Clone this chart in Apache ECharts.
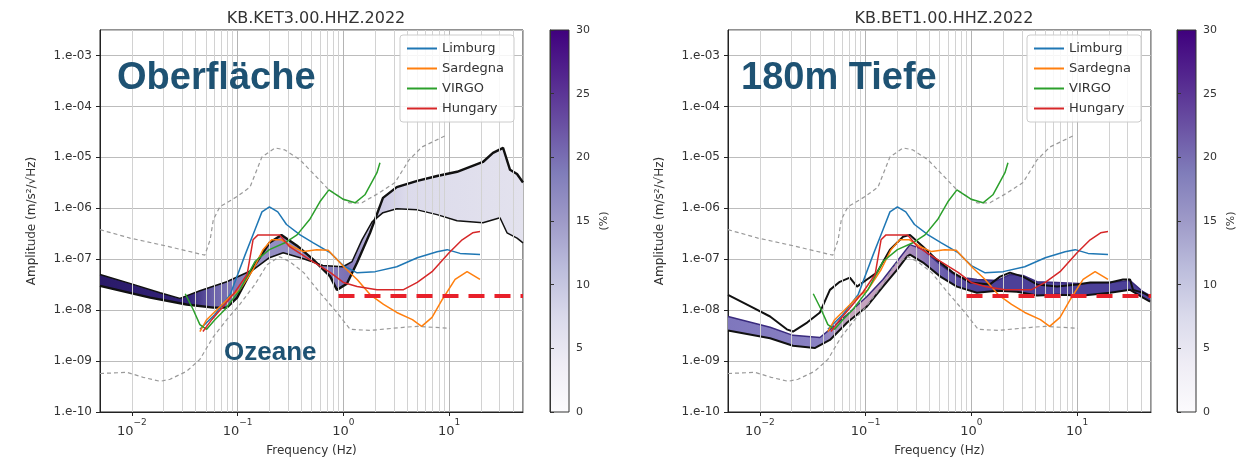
<!DOCTYPE html>
<html>
<head>
<meta charset="utf-8">
<script src="https://cdn.jsdelivr.net/npm/echarts@6/dist/echarts.min.js"></script>
<style>
  html, body { margin: 0; padding: 0; background: #fff; }
  #chart { width: 1240px; height: 458px; }
</style>
</head>
<body>
<div id="chart"></div>
<script>
// axis ticks
const xTickExp = [-2, -1, 0, 1];
const yTickLabels = { '-10': '1.e-10', '-9': '1.e-09', '-8': '1.e-08', '-7': '1.e-07', '-6': '1.e-06', '-5': '1.e-05', '-4': '1.e-04', '-3': '1.e-03' };
const cbarTicks = [0, 5, 10, 15, 20, 25, 30];

// reference curves, same in both panels  [freq Hz, amplitude]
const nhnm = [[0.005,3.8e-7],[0.0096,2.6e-7],[0.0215,1.8e-7],[0.049,1.2e-7],[0.055,2.4e-7],[0.059,6.0e-7],[0.068,1.07e-6],[0.099,1.7e-6],[0.131,2.6e-6],[0.17,1.02e-5],[0.226,1.53e-5],[0.28,1.4e-5],[0.39,8.9e-6],[0.51,5.0e-6],[0.73,2.3e-6],[1.13,1.28e-6],[1.5,1.28e-6],[2.18,2.0e-6],[3.08,3.2e-6],[4.18,8.9e-6],[5.55,1.6e-5],[9.56,2.75e-5]];
const nlnm = [[0.005,5.7e-10],[0.009,6.0e-10],[0.0128,4.8e-10],[0.0185,4.0e-10],[0.023,4.4e-10],[0.033,6.3e-10],[0.044,1.08e-9],[0.059,3.0e-9],[0.079,6.5e-9],[0.105,1.3e-8],[0.146,3.2e-8],[0.19,7.8e-8],[0.25,1.12e-7],[0.31,9.0e-8],[0.42,5.5e-8],[0.6,2.2e-8],[0.87,9.0e-9],[1.16,4.2e-9],[1.8,4.0e-9],[3.7,4.6e-9],[5.0,4.8e-9],[10.2,4.4e-9]];
const limburg = [[0.044,4.2e-9],[0.061,8.2e-9],[0.085,2.0e-8],[0.118,1.23e-7],[0.146,3.8e-7],[0.17,8.5e-7],[0.2,1.07e-6],[0.24,8.5e-7],[0.29,4.8e-7],[0.39,3.0e-7],[0.52,2.1e-7],[0.75,1.34e-7],[1.0,7.5e-8],[1.35,5.4e-8],[2.0,5.7e-8],[3.2,7.1e-8],[5.0,1.07e-7],[7.7,1.4e-7],[9.6,1.54e-7],[12.7,1.3e-7],[19.6,1.23e-7]];
const sardegna = [[0.044,3.8e-9],[0.051,6.5e-9],[0.064,1.03e-8],[0.085,1.85e-8],[0.105,2.5e-8],[0.14,6.2e-8],[0.174,1.54e-7],[0.21,2.4e-7],[0.26,2.4e-7],[0.33,1.76e-7],[0.42,1.41e-7],[0.56,1.54e-7],[0.72,1.5e-7],[1.03,6.8e-8],[1.35,4.0e-8],[1.8,2.0e-8],[2.4,1.3e-8],[3.2,9.0e-9],[4.5,6.5e-9],[5.5,4.8e-9],[6.9,7.2e-9],[8.6,1.6e-8],[11.4,4.0e-8],[14.8,5.7e-8],[19.6,4.0e-8]];
const virgo = [[0.032,2.1e-8],[0.038,1.03e-8],[0.044,5.2e-9],[0.051,4.2e-9],[0.061,6.5e-9],[0.076,1.03e-8],[0.105,2.5e-8],[0.146,9.0e-8],[0.2,1.54e-7],[0.28,2.1e-7],[0.365,3.0e-7],[0.48,6.0e-7],[0.6,1.34e-6],[0.73,2.3e-6],[1.0,1.5e-6],[1.29,1.28e-6],[1.6,1.84e-6],[2.08,5.0e-6],[2.22,7.8e-6]];
const hungary = [[0.047,3.8e-9],[0.057,6.5e-9],[0.073,1.18e-8],[0.095,2.3e-8],[0.123,5.0e-8],[0.14,2.4e-7],[0.156,3.0e-7],[0.25,3.0e-7],[0.31,1.76e-7],[0.48,9.8e-8],[0.75,5.5e-8],[1.0,3.5e-8],[1.35,2.9e-8],[2.08,2.5e-8],[3.67,2.5e-8],[5.0,3.5e-8],[6.9,5.7e-8],[10,1.34e-7],[13.3,2.4e-7],[16.7,3.3e-7],[19.6,3.5e-7]];
const requirement = [[0.9,1.9e-8],[50,1.9e-8]];

// left panel (surface) percentile curves
const surfLow = [[0.005,5.0e-8],[0.0103,3.2e-8],[0.0185,2.2e-8],[0.0285,1.7e-8],[0.044,2.4e-8],[0.079,3.6e-8],[0.14,6.2e-8],[0.2,1.07e-7],[0.27,1.34e-7],[0.42,1.02e-7],[0.64,7.5e-8],[0.99,7.1e-8],[1.21,9.0e-8],[1.5,2.4e-7],[1.87,5.4e-7],[2.37,8.2e-7],[3.2,9.8e-7],[5.0,9.3e-7],[7.7,7.5e-7],[11.9,5.7e-7],[20.9,5.2e-7],[30.3,6.5e-7],[35.3,3.3e-7],[43.9,2.6e-7],[50,2.1e-7]];
const surfHigh = [[0.005,3.0e-8],[0.0149,1.76e-8],[0.033,1.29e-8],[0.059,1.12e-8],[0.079,1.12e-8],[0.099,1.76e-8],[0.14,6.8e-8],[0.2,2.1e-7],[0.26,3.0e-7],[0.365,1.84e-7],[0.52,9.8e-8],[0.75,4.6e-8],[0.87,2.5e-8],[1.08,3.3e-8],[1.35,8.6e-8],[1.79,3.3e-7],[2.37,1.6e-6],[3.2,2.6e-6],[5.0,3.45e-6],[7.7,4.3e-6],[11.9,5.2e-6],[20.9,8.1e-6],[26,1.22e-5],[32.4,1.53e-5],[37.7,5.7e-6],[43.9,4.7e-6],[50,3.2e-6]];

// right panel (180 m) curves
const deepUpper = [[0.005,2.0e-8],[0.0086,1.12e-8],[0.0125,7.5e-9],[0.018,4.2e-9],[0.0206,3.8e-9],[0.028,5.7e-9],[0.037,9.0e-9],[0.046,2.5e-8],[0.057,3.6e-8],[0.071,4.35e-8],[0.083,2.9e-8],[0.103,4.0e-8],[0.128,5.45e-8],[0.17,1.54e-7],[0.226,2.76e-7],[0.263,3.0e-7],[0.35,1.76e-7],[0.47,9.8e-8],[0.67,5.45e-8],[0.97,3.5e-8],[1.5,3.2e-8],[1.87,4.55e-8],[2.32,5.45e-8],[3.08,4.55e-8],[4.18,3.2e-8],[6.46,2.9e-8],[10,3.2e-8],[13.3,3.5e-8],[20.5,3.5e-8],[27.2,4.0e-8],[31.7,4.0e-8],[33.8,2.5e-8],[42,2.2e-8],[49,1.85e-8]];
const deepTop = [[0.005,7.5e-9],[0.0125,4.6e-9],[0.0206,3.2e-9],[0.037,2.9e-9],[0.046,4.2e-9],[0.067,8.2e-9],[0.103,1.85e-8],[0.146,4.0e-8],[0.198,9.0e-8],[0.263,1.93e-7],[0.35,1.54e-7],[0.51,7.8e-8],[0.73,4.55e-8],[1.13,4.0e-8],[1.75,3.8e-8],[2.32,5.0e-8],[3.08,4.8e-8],[4.18,3.6e-8],[6.46,3.5e-8],[11.4,3.3e-8],[20.5,3.5e-8],[31.7,3.8e-8],[42,2.3e-8],[49,1.93e-8]];
const deepLower = [[0.005,4.0e-9],[0.0125,2.8e-9],[0.0206,2.0e-9],[0.033,1.8e-9],[0.046,2.6e-9],[0.067,5.7e-9],[0.103,1.18e-8],[0.146,2.9e-8],[0.198,6.2e-8],[0.246,1.12e-7],[0.263,1.23e-7],[0.35,8.6e-8],[0.51,4.55e-8],[0.73,2.9e-8],[1.13,2.2e-8],[1.75,2.4e-8],[2.7,2.3e-8],[4.18,1.93e-8],[6.46,2.0e-8],[11.4,1.93e-8],[20.5,2.2e-8],[31.7,2.5e-8],[42,1.76e-8],[49,1.47e-8]];

const siteNames = ['Limburg', 'Sardegna', 'VIRGO', 'Hungary'];
const siteColors = ['#1f77b4', '#ff7f0e', '#2ca02c', '#d62728'];
const siteData = [limburg, sardegna, virgo, hungary];

const font = 'DejaVu Sans';
const ink = '#333';

// minor log grid (2..9 of each decade)
const minorLines = [];
for (let e = -3; e <= 1; e++) {
  for (let m = 2; m <= 9; m++) {
    const f = m * Math.pow(10, e);
    if (f > 0.005 && f < 50) minorLines.push({ xAxis: f });
  }
}

const purples = [
  { offset: 0, color: '#3f007d' }, { offset: 0.125, color: '#54278f' },
  { offset: 0.25, color: '#6a51a3' }, { offset: 0.375, color: '#807dba' },
  { offset: 0.5, color: '#9e9ac8' }, { offset: 0.625, color: '#bcbddc' },
  { offset: 0.75, color: '#dadaeb' }, { offset: 0.875, color: '#efedf5' },
  { offset: 1, color: '#fcfbfd' }
];

function xLabel(v) {
  const l = Math.log10(v);
  const e = Math.round(l);
  if (Math.abs(l - e) > 1e-6 || xTickExp.indexOf(e) < 0) return '';
  return '{b|10}{s|' + (e < 0 ? '\u2212' : '') + Math.abs(e) + '}';
}
function yLabel(v) {
  const l = Math.log10(v);
  const e = Math.round(l);
  if (Math.abs(l - e) > 1e-6) return '';
  return yTickLabels[e] || '';
}

function plotX(gi) {
  return {
    type: 'log', gridIndex: gi, min: 0.005, max: 50, splitNumber: 4,
    name: 'Frequency (Hz)', nameLocation: 'middle', nameGap: 33,
    nameTextStyle: { fontFamily: font, fontSize: 12, color: ink },
    axisLine: { show: true, lineStyle: { color: '#222' } },
    axisTick: { show: true, length: 4, lineStyle: { color: '#222' } },
    axisLabel: {
      formatter: xLabel, margin: 6, showMinLabel: false, showMaxLabel: false,
      rich: {
        b: { fontFamily: font, fontSize: 13, color: ink, lineHeight: 20, verticalAlign: 'bottom' },
        s: { fontFamily: font, fontSize: 9, color: ink, lineHeight: 11, verticalAlign: 'top' }
      }
    },
    splitLine: { show: true, lineStyle: { color: '#b4b4b4', width: 1 } }
  };
}
function plotY(gi) {
  return {
    type: 'log', gridIndex: gi, min: 1e-10, max: Math.pow(10, -2.5), splitNumber: 8,
    name: 'Amplitude (m/s\u00b2/\u221aHz)', nameLocation: 'middle', nameGap: 62,
    nameTextStyle: { fontFamily: font, fontSize: 12, color: ink },
    axisLine: { show: true, lineStyle: { color: '#222' } },
    axisTick: { show: true, length: 4, lineStyle: { color: '#222' } },
    axisLabel: { formatter: yLabel, margin: 8, fontFamily: font, fontSize: 12, color: ink, showMaxLabel: false },
    splitLine: { show: true, lineStyle: { color: '#bcbcbc', width: 1 } }
  };
}
function cbarY(gi) {
  return {
    type: 'value', gridIndex: gi, position: 'right', min: cbarTicks[0], max: cbarTicks[cbarTicks.length - 1], interval: 5,
    name: '(%)', nameLocation: 'middle', nameGap: 30, nameRotate: 90,
    nameTextStyle: { fontFamily: font, fontSize: 11, color: ink },
    axisLine: { show: true, lineStyle: { color: '#333' } },
    axisTick: { show: true, length: 4, lineStyle: { color: '#333' } },
    axisLabel: { margin: 7, fontFamily: font, fontSize: 11, color: ink },
    splitLine: { show: false }
  };
}
function cbarX(gi) {
  return { type: 'value', gridIndex: gi, min: 0, max: 1, show: false };
}

function bandSeries(gi, upper, lower, stops, z) {
  return {
    type: 'custom', xAxisIndex: gi, yAxisIndex: gi, silent: true, z: z, clip: true,
    data: [[1, 1e-6]],
    renderItem: function (params, api) {
      const pts = upper.map(p => api.coord(p)).concat(lower.slice().reverse().map(p => api.coord(p)));
      const x0 = api.coord([0.005, 1e-8])[0];
      const x1 = api.coord([50, 1e-8])[0];
      const grad = new echarts.graphic.LinearGradient(x0, 0, x1, 0,
        stops.map(s => ({ offset: (api.coord([s[0], 1e-8])[0] - x0) / (x1 - x0), color: s[1] })), true);
      return { type: 'polygon', shape: { points: pts }, style: { fill: grad } };
    }
  };
}
function line(gi, name, data, color, width, z, dash) {
  return {
    type: 'line', name: name, xAxisIndex: gi, yAxisIndex: gi, data: data,
    showSymbol: false, symbol: 'none', silent: true, z: z, animation: false,
    lineStyle: { color: color, width: width, type: dash || 'solid' },
    itemStyle: { color: color }
  };
}
function minorGrid(gi) {
  return {
    type: 'line', xAxisIndex: gi, yAxisIndex: gi, data: [[0.005, 1e-10]], showSymbol: false,
    lineStyle: { opacity: 0 }, silent: true, z: 1,
    markLine: {
      silent: true, symbol: ['none', 'none'], label: { show: false }, animation: false,
      lineStyle: { color: '#d2d2d2', width: 1, type: 'solid' },
      data: minorLines
    }
  };
}

function refSeries(gi) {
  const out = [];
  out.push(line(gi, 'NHNM', nhnm, '#9a9a9a', 1.2, 5, [4, 3]));
  out.push(line(gi, 'NLNM', nlnm, '#9a9a9a', 1.2, 5, [4, 3]));
  siteNames.forEach((n, i) => out.push(line(gi, n, siteData[i], siteColors[i], 1.5, 6)));
  out.push(line(gi, 'Requirement', requirement, '#e8202a', 4, 7, [16, 10]));
  return out;
}

const surfStops = [[0.005, '#2a1a68'], [0.035, '#33237a'], [0.06, '#6d64ab'], [0.15, '#9690c4'], [0.5, '#8f88c2'], [1.1, '#7b70b5'], [1.8, '#c4c0de'], [4, '#dcdbeb'], [50, '#e3e2ee']];
const deepStops = [[0.005, '#7f77bd'], [0.04, '#8a82c3'], [0.07, '#c7a6bc'], [0.2, '#c39fc4'], [0.5, '#6f63b0'], [1, '#4c4098'], [50, '#4c4098']];

const series = [
  minorGrid(0),
  bandSeries(0, surfHigh, surfLow, surfStops, 2),
  line(0, 'p_low', surfLow, '#111', 1.5, 4),
  line(0, 'p_high', surfHigh, '#111', 2.4, 4),
  ...refSeries(0),
  minorGrid(1),
  bandSeries(1, deepTop, deepLower, deepStops, 2),
  line(1, 'mode_top', deepTop, '#3a2b7e', 1.5, 3),
  line(1, 'p_low_d', deepLower, '#111', 2, 4),
  line(1, 'p_high_d', deepUpper, '#111', 2, 4),
  ...refSeries(1)
];

const legendBase = {
  data: siteNames, orient: 'vertical', top: 35, itemWidth: 30, itemHeight: 2, icon: 'rect', itemGap: 7,
  backgroundColor: 'rgba(255,255,255,0.85)', borderColor: '#cccccc', borderWidth: 1, borderRadius: 3,
  padding: [7, 10, 7, 7], selectedMode: false, z: 20,
  textStyle: { fontFamily: font, fontSize: 13, color: ink }
};

const annot = { fill: '#1e5273', font: 'bold 38px "Liberation Sans", Arial, sans-serif' };

const chart = echarts.init(document.getElementById('chart'), null, { renderer: 'canvas' });
chart.setOption({
  animation: false,
  backgroundColor: '#fff',
  title: [
    { text: 'KB.KET3.00.HHZ.2022', left: 311, top: 6, textAlign: 'center', textStyle: { fontFamily: font, fontSize: 16, fontWeight: 'normal', color: ink } },
    { text: 'KB.BET1.00.HHZ.2022', left: 939, top: 6, textAlign: 'center', textStyle: { fontFamily: font, fontSize: 16, fontWeight: 'normal', color: ink } }
  ],
  grid: [
    { left: 100, top: 30, width: 423, height: 382, show: true, backgroundColor: '#fff', borderColor: '#222', borderWidth: 1, containLabel: false, outerBoundsMode: 'none' },
    { left: 728, top: 30, width: 423, height: 382, show: true, backgroundColor: '#fff', borderColor: '#222', borderWidth: 1, containLabel: false, outerBoundsMode: 'none' },
    { left: 550, top: 30, width: 19, height: 382, show: true, borderColor: '#333', borderWidth: 1, outerBoundsMode: 'none',
      backgroundColor: new echarts.graphic.LinearGradient(0, 0, 0, 1, purples) },
    { left: 1177, top: 30, width: 19, height: 382, show: true, borderColor: '#333', borderWidth: 1, outerBoundsMode: 'none',
      backgroundColor: new echarts.graphic.LinearGradient(0, 0, 0, 1, purples) }
  ],
  xAxis: [plotX(0), plotX(1), cbarX(2), cbarX(3)],
  yAxis: [plotY(0), plotY(1), cbarY(2), cbarY(3)],
  legend: [
    Object.assign({}, legendBase, { left: 400 }),
    Object.assign({}, legendBase, { left: 1027 })
  ],
  graphic: [
    { type: 'text', left: 117, top: 60, z: 50, silent: true, style: Object.assign({ text: 'Oberfl\u00e4che' }, annot) },
    { type: 'text', left: 741, top: 60, z: 50, silent: true, style: Object.assign({ text: '180m Tiefe' }, annot) },
    { type: 'text', left: 224, top: 340, z: 50, silent: true, style: { text: 'Ozeane', fill: '#1e5273', font: 'bold 26px "Liberation Sans", Arial, sans-serif' } }
  ],
  series: series
});
</script>
</body>
</html>
